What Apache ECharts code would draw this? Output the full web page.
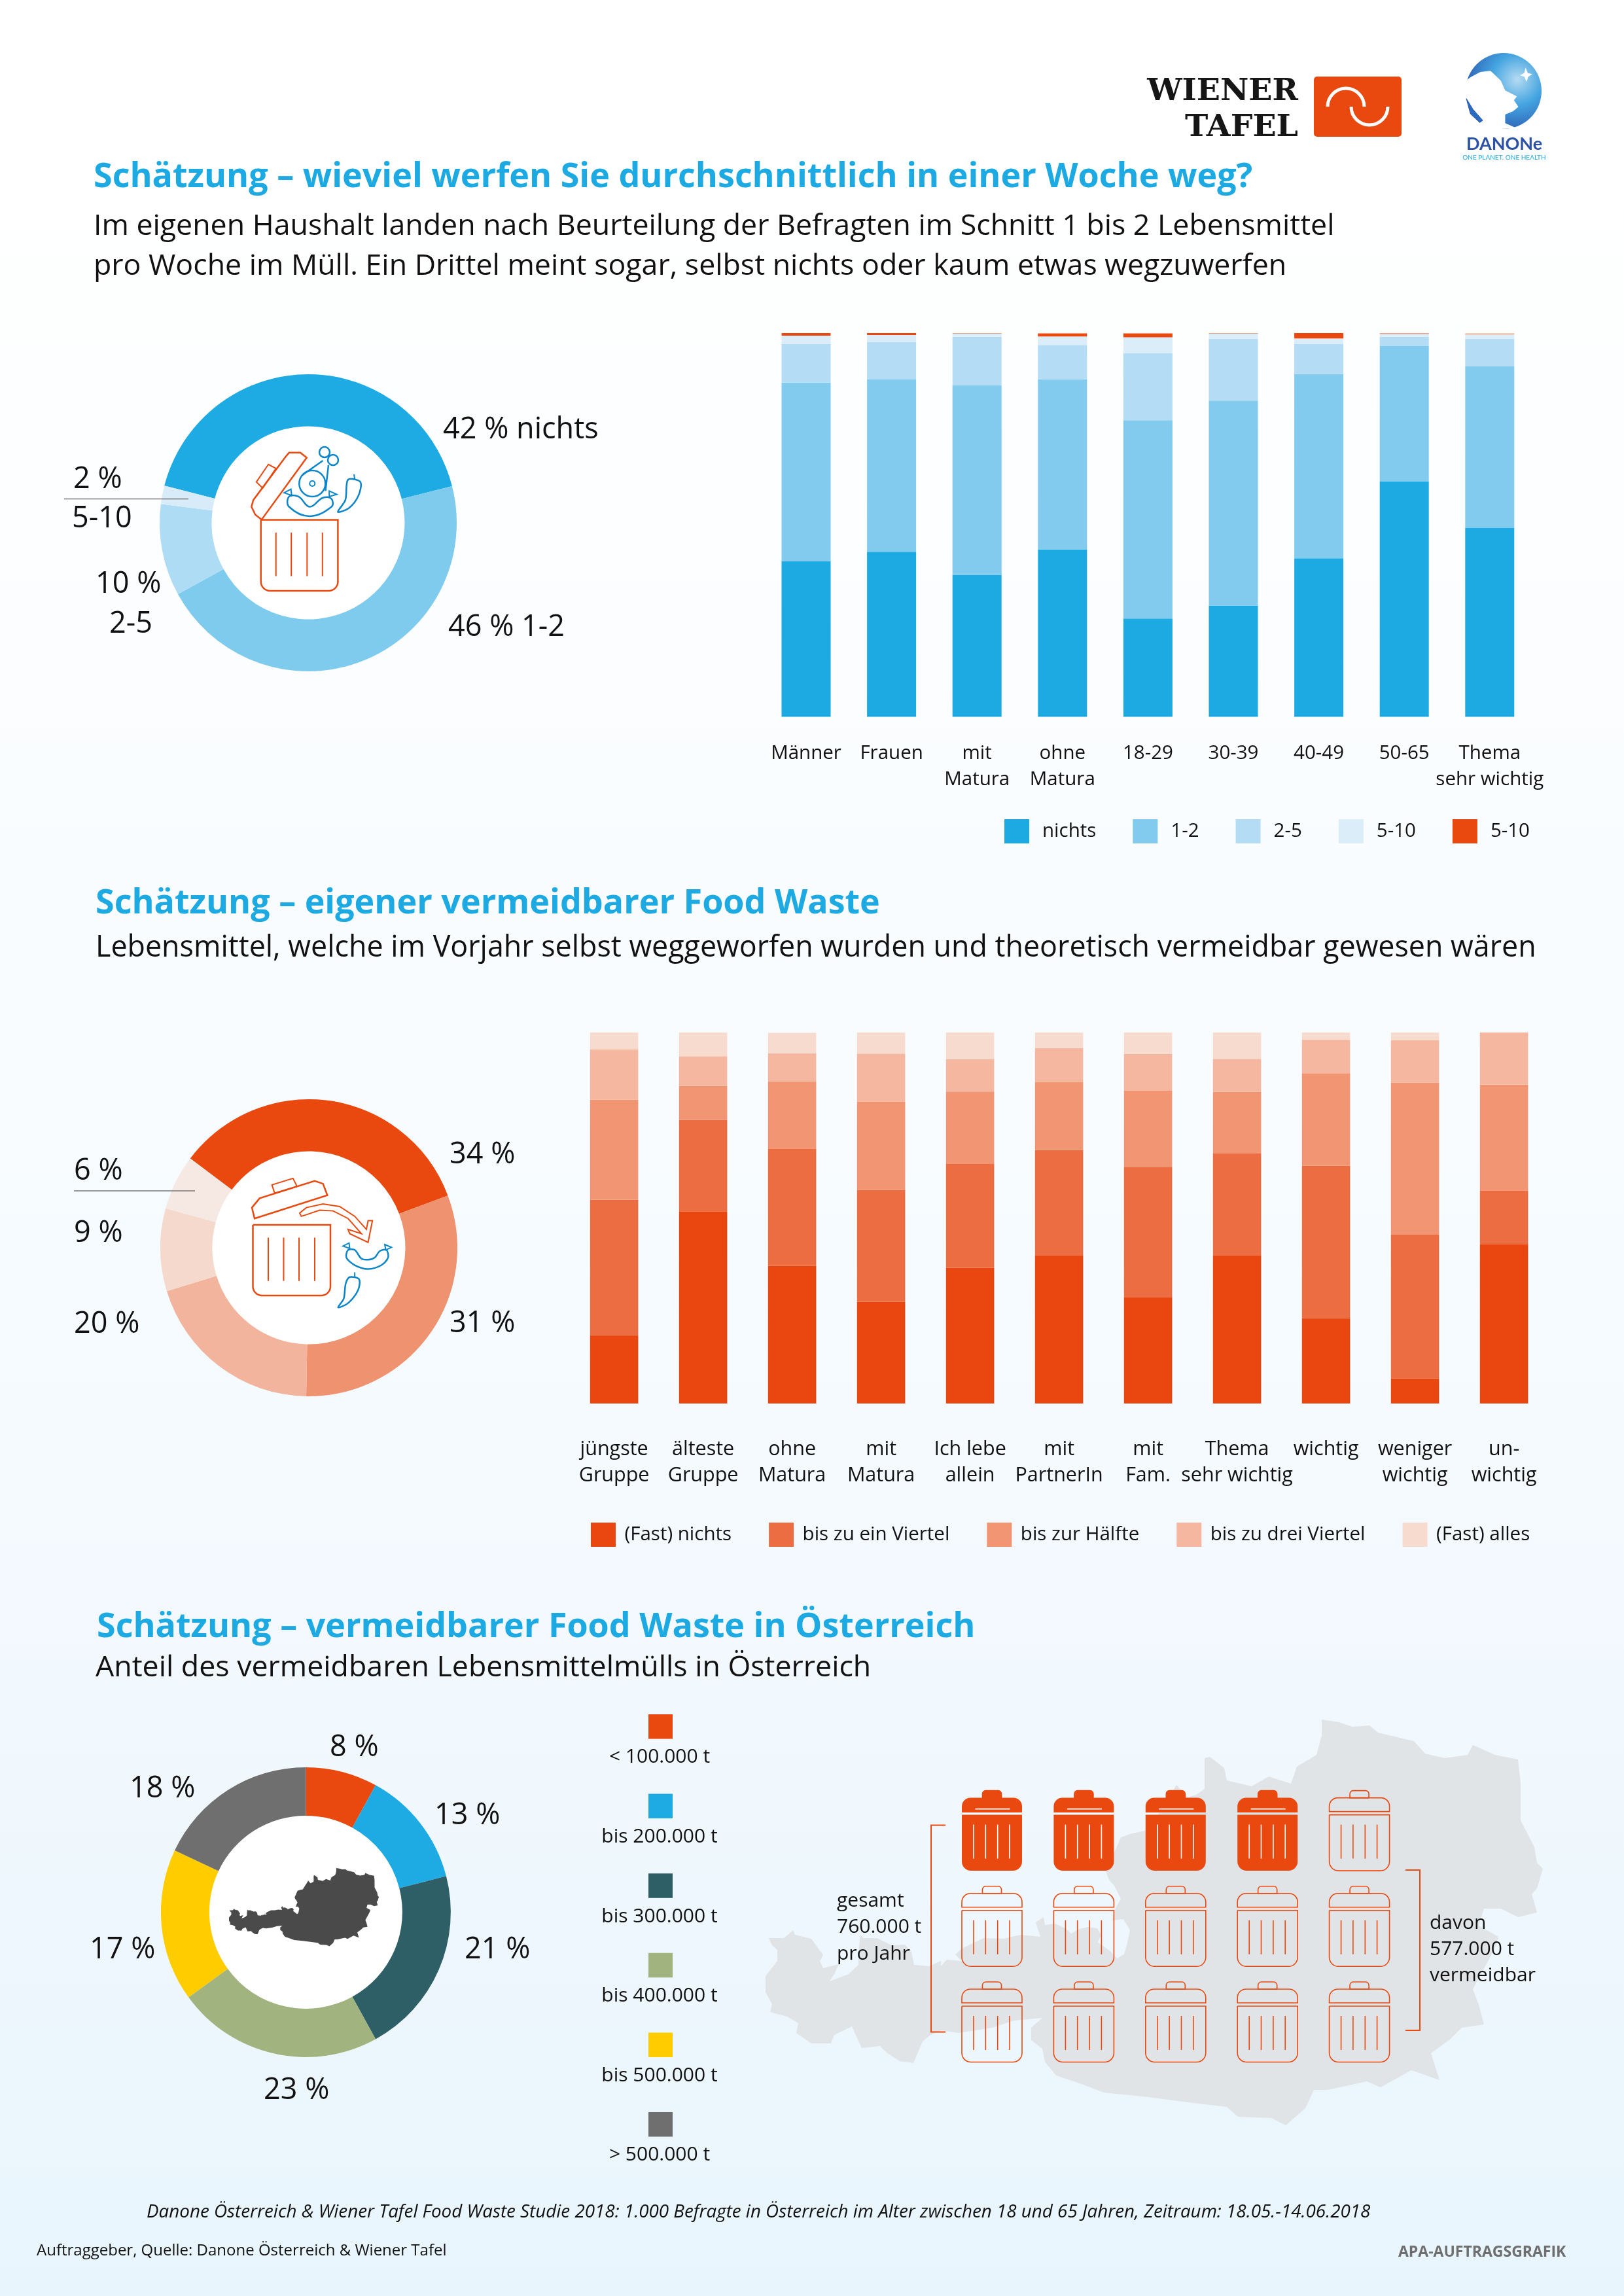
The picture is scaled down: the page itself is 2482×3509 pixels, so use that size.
<!DOCTYPE html>
<html lang="de">
<head>
<meta charset="UTF-8">
<title>Food Waste</title>
<style>html,body{margin:0;padding:0;background:#fff}#main{width:2482px;height:3509px}</style>
</head>
<body>
<div id="main"></div>
<script src="https://cdn.jsdelivr.net/npm/echarts@6/dist/echarts.min.js"></script>
<script>
// chart 1 - wieviel pro Woche
const weekCats = ['Männer', 'Frauen', 'mit\nMatura', 'ohne\nMatura', '18-29', '30-39', '40-49', '50-65', 'Thema\nsehr wichtig'];
const weekNames = ['nichts', '1-2', '2-5', '5-10', '5-10 '];
const weekNichts = [40.5, 43.0, 37.0, 43.6, 25.6, 29.0, 41.3, 61.4, 49.2];
const week12 = [46.6, 44.9, 49.4, 44.4, 51.7, 53.4, 48.0, 35.2, 42.1];
const week25 = [10.0, 9.8, 12.6, 8.9, 17.4, 16.1, 7.8, 2.4, 7.2];
const week510 = [2.2, 1.8, 0.9, 2.2, 4.2, 1.4, 1.5, 0.8, 1.1];
const weekTop = [0.7, 0.5, 0.1, 0.8, 1.0, 0.1, 1.4, 0.1, 0.3];
const pie1Values = [42, 46, 10, 2];

// chart 2 - eigener Food Waste
const ownCats = ['jüngste\nGruppe', 'älteste\nGruppe', 'ohne\nMatura', 'mit\nMatura', 'Ich lebe\nallein', 'mit\nPartnerIn', 'mit\nFam.', 'Thema\nsehr wichtig', 'wichtig', 'weniger\nwichtig', 'un-\nwichtig'];
const ownNames = ['(Fast) nichts', 'bis zu ein Viertel', 'bis zur Hälfte', 'bis zu drei Viertel', '(Fast) alles'];
const ownNichts = [18.4, 51.8, 37.1, 27.4, 36.6, 40.0, 28.7, 40.0, 23.0, 6.8, 43.0];
const ownViertel = [36.5, 24.6, 31.5, 30.2, 28.1, 28.3, 35.1, 27.5, 41.1, 38.7, 14.3];
const ownHaelfte = [27.0, 9.2, 18.2, 23.7, 19.4, 18.3, 20.5, 16.5, 24.9, 41.0, 28.7];
const ownDrei = [13.5, 8.0, 7.6, 13.0, 8.7, 9.2, 9.9, 8.9, 9.1, 11.4, 14.0];
const ownAlles = [4.6, 6.4, 5.5, 5.8, 7.3, 4.2, 5.8, 7.1, 1.9, 2.2, 0];
const pie2Values = [34, 31, 20, 9, 6];

// chart 3 - Oesterreich
const pie3Names = ['< 100.000 t', 'bis 200.000 t', 'bis 300.000 t', 'bis 400.000 t', 'bis 500.000 t', '> 500.000 t'];
const pie3Values = [8, 13, 21, 23, 17, 18];
const binsTotal = 15;
const binsFilled = 4;

const blues = ['#1daae2', '#82cbee', '#b4dcf4', '#daedf9', '#e9490f'];
const oranges = ['#e9470f', '#ec6d41', '#f19573', '#f5b7a0', '#f8dbcf'];
const pie1Colors = ['#1eaae2', '#7fcbee', '#aedcf5', '#d7ebf8'];
const pie2Colors = ['#e9490f', '#ee9270', '#f2b49c', '#f5d9cd', '#f6e9e3'];
const pie3Colors = ['#e9490f', '#1eaae2', '#2e5f66', '#a1b37e', '#ffcc00', '#706f6f'];
const RED = '#e9490f', ICONBLUE = '#0a85c9', INK = '#111111';
const FONT = '"Open Sans"';

var myChart = echarts.init(document.getElementById('main'), null, { renderer: 'canvas' });

// text with baseline y
function T(text, x, base, size, o) {
    o = o || {};
    return {
        type: 'text', z: 20,
        style: {
            text: text, x: x, y: base - size * 0.27,
            font: (o.st || '') + ' ' + (o.w || 'normal') + ' ' + size + 'px ' + (o.f || FONT),
            fill: o.c || INK,
            textAlign: o.a || 'left', textVerticalAlign: 'middle',
            align: o.a || 'left', verticalAlign: 'middle'
        }
    };
}
function line(x1, y1, x2, y2, c, w) {
    return { type: 'line', z: 20, shape: { x1: x1, y1: y1, x2: x2, y2: y2 }, style: { stroke: c, lineWidth: w } };
}
function box(x, y, w, h, r, fill, stroke, lw) {
    return { type: 'rect', z: 20, shape: { x: x, y: y, width: w, height: h, r: r }, style: { fill: fill || 'none', stroke: stroke || 'none', lineWidth: lw || 0 } };
}
// map points read in a zoomed crop to page px
function pts(list, ox, oy, sx, sy) {
    return list.map(p => [ox + p[0] / sx, oy + p[1] / sy]);
}
function poly(points, stroke, lw, fill, smooth) {
    return { type: 'polygon', z: 20, shape: { points: points, smooth: smooth || 0 }, style: { fill: fill || 'none', stroke: stroke, lineWidth: lw } };
}
function pline(points, stroke, lw) {
    return { type: 'polyline', z: 20, shape: { points: points }, style: { fill: 'none', stroke: stroke, lineWidth: lw } };
}

// austria outline, page px of the big map
const austria = [[1175,2962],[1198,2962],[1212,2950],[1215,2957],[1240,2963],[1258,2988],[1253,2997],[1258,3008],[1282,3002],[1275,3017],[1268,3028],[1297,3017],[1312,3003],[1312,2983],[1315,2957],[1320,2962],[1340,2962],[1363,2973],[1383,2972],[1393,2983],[1397,3003],[1420,3005],[1438,2997],[1438,3005],[1447,2995],[1470,2997],[1460,2987],[1470,2978],[1503,2962],[1533,2963],[1560,2957],[1590,2960],[1583,2938],[1595,2930],[1597,2942],[1613,2940],[1628,2947],[1637,2955],[1650,2948],[1663,2945],[1677,2947],[1683,2957],[1678,2968],[1687,2975],[1697,2982],[1707,2993],[1718,2987],[1722,2973],[1727,2950],[1717,2933],[1700,2935],[1703,2920],[1713,2902],[1703,2882],[1695,2873],[1690,2860],[1696,2847],[1713,2808],[1730,2802],[1755,2797],[1798,2728],[1815,2747],[1828,2743],[1841,2734],[1841,2687],[1849,2685],[1871,2702],[1875,2721],[1913,2730],[1939,2715],[1973,2726],[1982,2700],[2012,2682],[2020,2652],[2020,2628],[2046,2632],[2067,2639],[2093,2637],[2106,2648],[2161,2661],[2178,2680],[2208,2687],[2243,2682],[2251,2667],[2285,2682],[2320,2689],[2324,2726],[2324,2782],[2345,2823],[2349,2847],[2358,2856],[2349,2886],[2341,2895],[2349,2923],[2320,2930],[2294,2917],[2268,2917],[2260,2943],[2290,2960],[2285,2977],[2251,3040],[2260,3064],[2268,3094],[2234,3099],[2217,3116],[2187,3138],[2200,3179],[2157,3164],[2110,3190],[2089,3181],[2029,3194],[2008,3194],[1995,3222],[1965,3248],[1943,3237],[1892,3235],[1875,3220],[1824,3214],[1755,3205],[1687,3198],[1653,3185],[1614,3172],[1597,3151],[1593,3131],[1576,3118],[1576,3099],[1593,3084],[1550,3088],[1516,3099],[1465,3107],[1439,3103],[1422,3110],[1410,3120],[1396,3153],[1375,3150],[1355,3137],[1345,3127],[1317,3130],[1302,3097],[1275,3110],[1270,3123],[1240,3123],[1217,3107],[1220,3092],[1203,3082],[1177,3075],[1180,3063],[1170,3045],[1170,3020],[1188,2997],[1188,2980],[1180,2973]];

var g = [];
// white discs behind the donuts
[[471, 799], [472, 1907], [467.4, 2922.4]].forEach(c => {
    g.push({ type: 'circle', z: 0, shape: { cx: c[0], cy: c[1], r: 150 }, style: { fill: '#ffffff' } });
});

// titles
g.push(T('Schätzung – wieviel werfen Sie durchschnittlich in einer Woche weg?', 143, 285, 52, { w: 'bold', c: '#1daae2' }));
g.push(T('Im eigenen Haushalt landen nach Beurteilung der Befragten im Schnitt 1 bis 2 Lebensmittel', 143, 358, 44.7));
g.push(T('pro Woche im Müll. Ein Drittel meint sogar, selbst nichts oder kaum etwas wegzuwerfen', 143, 419, 44.7));
g.push(T('Schätzung – eigener vermeidbarer Food Waste', 146, 1395, 52, { w: 'bold', c: '#1daae2' }));
g.push(T('Lebensmittel, welche im Vorjahr selbst weggeworfen wurden und theoretisch vermeidbar gewesen wären', 146, 1461, 44.8));
g.push(T('Schätzung – vermeidbarer Food Waste in Österreich', 148, 2501, 52, { w: 'bold', c: '#1daae2' }));
g.push(T('Anteil des vermeidbaren Lebensmittelmülls in Österreich', 146, 2561, 44.7));

// pie labels
const PIE_FS = 45;
g.push(T(pie1Values[0] + ' % nichts', 677, 669, PIE_FS));
g.push(T(pie1Values[1] + ' % 1-2', 685, 971, PIE_FS));
g.push(T(pie1Values[2] + ' %', 146, 905, PIE_FS));
g.push(T('2-5', 167, 966, PIE_FS));
g.push(T(pie1Values[3] + ' %', 112, 745, PIE_FS));
g.push(T('5-10', 110, 805, PIE_FS));
g.push(line(98, 762.5, 288, 762.5, '#777777', 1.5));

g.push(T(pie2Values[0] + ' %', 687, 1777, PIE_FS));
g.push(T(pie2Values[1] + ' %', 687, 2035, PIE_FS));
g.push(T(pie2Values[4] + ' %', 113, 1802, PIE_FS));
g.push(T(pie2Values[3] + ' %', 113, 1897, PIE_FS));
g.push(T(pie2Values[2] + ' %', 113, 2036, PIE_FS));
g.push(line(113, 1820, 298, 1820, '#777777', 1.5));

g.push(T(pie3Values[0] + ' %', 504, 2683, PIE_FS));
g.push(T(pie3Values[1] + ' %', 664, 2787, PIE_FS));
g.push(T(pie3Values[2] + ' %', 710, 2992, PIE_FS));
g.push(T(pie3Values[3] + ' %', 403, 3207, PIE_FS));
g.push(T(pie3Values[4] + ' %', 137, 2992, PIE_FS));
g.push(T(pie3Values[5] + ' %', 198, 2746, PIE_FS));

// legend of the third donut, label below the swatch
pie3Names.forEach((n, i) => {
    g.push(box(991, 2620 + i * 121.6, 37, 37.5, 0, pie3Colors[i]));
    g.push(T(n, 1008, 2694 + i * 121.6, 30, { a: 'center' }));
});

// map behind the bins
g.push({ type: 'polygon', z: 1, shape: { points: austria }, style: { fill: '#e1e4e7' } });
// small map in the third donut
g.push(poly(austria.map(p => [350 + (p[0] - 1170) * 0.1928, 2855 + (p[1] - 2628) * 0.1928]), 'none', 0, '#4a4a4a'));

// bins
for (let i = 0; i < binsTotal; i++) {
    const col = i % 5, row = Math.floor(i / 5);
    const x = 1470 + col * 140.4, y = 2736.6 + row * 146.2;
    const full = i < binsFilled;
    const f = full ? RED : null, lw = full ? 0 : 1.6, fg = full ? '#ffffff' : RED;
    const ch = [
        box(31.5, 0, 29, 11, [5, 5, 0, 0], f, RED, 1.6),
        box(0, 11, 92, full ? 22.5 : 21, [13, 13, 0, 0], f, RED, lw),
        box(0, 37, 92, 85.5, [0, 0, 14, 14], f, RED, lw)
    ];
    [18, 36.3, 54.7, 73].forEach(sx => ch.push(line(sx, 52, sx, 104, fg, 1.6)));
    if (full) ch.push(line(20.5, 28, 73.5, 28, '#ffffff', 1.6));
    g.push({ type: 'group', x: x, y: y, children: ch });
}
// brackets
g.push(pline([[1445, 2789.5], [1423, 2789.5], [1423, 3105.5], [1445, 3105.5]], RED, 2));
g.push(pline([[2148, 2858], [2170, 2858], [2170, 3103], [2148, 3103]], RED, 2));
g.push(T('gesamt', 1279, 2914, 30));
g.push(T('760.000 t', 1279, 2954, 30));
g.push(T('pro Jahr', 1279, 2995, 30));
g.push(T('davon', 2185, 2948, 30));
g.push(T('577.000 t', 2185, 2988, 30));
g.push(T('vermeidbar', 2185, 3028, 30));

// footer
g.push(T('Danone Österreich & Wiener Tafel Food Waste Studie 2018: 1.000 Befragte in Österreich im Alter zwischen 18 und 65 Jahren, Zeitraum: 18.05.-14.06.2018', 224, 3389, 27.8, { st: 'italic' }));
g.push(T('Auftraggeber, Quelle: Danone Österreich & Wiener Tafel', 56, 3447, 24));
g.push(T('APA-AUFTRAGSGRAFIK', 2137, 3449, 23, { w: 'bold', c: '#6f6f6f' }));

// icon 1, bin with open lid and food
const z1 = l => pts(l, 60, 530, 1.742, 2.904);
g.push(box(398.7, 794.5, 117.7, 108.5, [0, 0, 14, 14], null, RED, 2.5));
[421.7, 445.2, 469.3, 492.8].forEach(x => g.push(line(x, 814, x, 880.5, RED, 2)));
g.push(poly(z1([[592,767],[712,492],[695,470],[665,470],[655,490],[570,680],[565,710],[575,745]]), RED, 2.5));
g.push(poly(z1([[578,600],[610,522],[630,540],[595,627]]), RED, 2));
g.push({ type: 'circle', z: 20, shape: { cx: 477.3, cy: 739, r: 20 }, style: { fill: 'none', stroke: ICONBLUE, lineWidth: 2.5 } });
g.push({ type: 'circle', z: 20, shape: { cx: 477.3, cy: 739, r: 4 }, style: { fill: 'none', stroke: ICONBLUE, lineWidth: 2 } });
g.push(pline(z1([[700,570],[755,505]]), ICONBLUE, 2.5));
g.push(pline(z1([[770,525],[762,640]]), ICONBLUE, 2.5));
g.push({ type: 'circle', z: 20, shape: { cx: 496, cy: 691, r: 8 }, style: { fill: '#fff', stroke: ICONBLUE, lineWidth: 2.5 } });
g.push({ type: 'circle', z: 20, shape: { cx: 509, cy: 703, r: 8 }, style: { fill: '#fff', stroke: ICONBLUE, lineWidth: 2.5 } });
g.push(poly(z1([[665,665],[665,710],[720,752],[778,710],[778,675],[755,670],[720,710],[690,665]]), ICONBLUE, 2.5, '#fff', 0.4));
g.push(poly(z1([[652,648],[670,632],[672,660]]), ICONBLUE, 2));
g.push(poly(z1([[772,640],[792,655],[772,665]]), ICONBLUE, 2));
g.push(poly(z1([[822,590],[855,600],[850,660],[825,715],[795,733],[815,680]]), ICONBLUE, 2.5, null, 0.3));
g.push(line(60 + 838 / 1.742, 530 + 566 / 2.904, 60 + 840 / 1.742, 530 + 590 / 2.904, ICONBLUE, 2));

// icon 2, bin, lid, arrow, food
const z2 = l => pts(l, 60, 1640, 1.96, 3.015);
g.push(box(386.5, 1872, 118.5, 108, [0, 0, 14, 14], null, RED, 2.5));
[410, 433.5, 457, 481].forEach(x => g.push(line(x, 1891.4, x, 1957.7, RED, 2)));
g.push(poly(z2([[645,670],[863,563],[850,510],[825,497],[660,577],[637,620]]), RED, 2.5));
g.push(poly(z2([[705,553],[697,515],[760,485],[772,522]]), RED, 2));
g.push(poly(z2([[785,660],[780,645],[800,620],[850,603],[900,615],[945,660],[980,720],[985,680],[998,680],[985,780],[930,740],[925,720],[965,740],[925,670],[880,635],[840,632],[805,650]]), RED, 2));
g.push(poly(z2([[925,815],[920,850],[945,885],[985,903],[1025,885],[1045,850],[1040,815],[1020,820],[1005,850],[985,860],[965,855],[945,815]]), ICONBLUE, 2.5, '#fff', 0.3));
g.push(poly(z2([[910,797],[928,783],[930,808]]), ICONBLUE, 2));
g.push(poly(z2([[1035,790],[1055,803],[1038,815]]), ICONBLUE, 2));
g.push(poly(z2([[930,940],[958,950],[955,1000],[925,1060],[895,1080],[912,1040],[918,970]]), ICONBLUE, 2.5, null, 0.3));
g.push(line(60 + 945 / 1.96, 1640 + 918 / 3.015, 60 + 945 / 1.96, 1640 + 940 / 3.015, ICONBLUE, 2));

// Wiener Tafel logo
g.push(T('WIENER', 1984, 153, 47.5, { a: 'right', w: 'bold', f: '"DejaVu Serif"', c: '#161616' }));
g.push(T('TAFEL', 1984, 208, 47.5, { a: 'right', w: 'bold', f: '"DejaVu Serif"', c: '#161616' }));
g.push(box(2008, 117, 134, 92, 5, RED));
g.push({ type: 'arc', z: 21, shape: { cx: 2057, cy: 163, r: 28, startAngle: Math.PI, endAngle: 2 * Math.PI, clockwise: true }, style: { stroke: '#fff', lineWidth: 5, fill: 'none' } });
g.push({ type: 'arc', z: 21, shape: { cx: 2093, cy: 163, r: 28, startAngle: 0, endAngle: Math.PI, clockwise: true }, style: { stroke: '#fff', lineWidth: 5, fill: 'none' } });

// Danone logo
const z3 = l => pts(l, 1700, 60, 2.24, 3);
g.push({ type: 'circle', z: 20, shape: { cx: 2298, cy: 139, r: 58 }, style: { fill: new echarts.graphic.RadialGradient(0.68, 0.35, 0.75, [{ offset: 0, color: '#b5dbf2' }, { offset: 0.45, color: '#44a4e0' }, { offset: 1, color: '#2a55ae' }]) } });
g.push(poly(z3([[1190,215],[1225,175],[1260,150],[1295,145],[1330,190],[1345,235],[1385,262],[1375,280],[1390,310],[1372,330],[1345,345],[1345,385],[1385,408],[1270,415],[1262,380],[1230,340],[1210,270],[1190,270]]), 'none', 0, '#ffffff'));
g.push(poly(z3([[1212,272],[1235,322],[1268,372],[1258,382],[1226,342]]), '#2a55ae', 1, '#2a6cc0'));
g.push(poly(z3([[1415,130],[1422,155],[1438,160],[1424,172],[1418,195],[1410,172],[1395,165],[1410,155]]), 'none', 0, '#ffffff'));
g.push(T('DANONe', 2299, 228, 27, { a: 'center', w: 'bold', f: 'Lato', c: '#2c52a5' }));
g.push(T('ONE PLANET. ONE HEALTH', 2299, 243, 10, { a: 'center', f: 'Lato', c: '#1fa9e1' }));

function barSeries(name, values, color, gi, stack, width) {
    return {
        name: name, type: 'bar', stack: stack, xAxisIndex: gi, yAxisIndex: gi,
        barWidth: width, silent: true, itemStyle: { color: color }, data: values
    };
}

var weekData = [weekNichts, week12, week25, week510, weekTop];
var ownData = [ownNichts, ownViertel, ownHaelfte, ownDrei, ownAlles];
var series = [];
weekData.forEach((d, i) => series.push(barSeries(weekNames[i], d, blues[i], 0, 'week', 75)));
ownData.forEach((d, i) => series.push(barSeries(ownNames[i], d, oranges[i], 1, 'own', 73.6)));
// top sliver of the last bar is paler in the source
series[4].data = weekTop.map((v, i) => i === 8 ? { value: v, itemStyle: { color: '#f0a88c' } } : v);

function pieSeries(values, names, colors, cx, cy, outer, inner, start) {
    return {
        type: 'pie', center: [cx, cy], radius: [inner, outer], startAngle: start, silent: true,
        label: { show: false }, labelLine: { show: false },
        data: values.map((v, i) => ({ name: names[i], value: v, itemStyle: { color: colors[i] } }))
    };
}
series.push(pieSeries(pie1Values, ['Pie nichts', 'Pie 1-2', 'Pie 2-5', 'Pie 5-10'], pie1Colors, 471, 799, 227, 147.5, 165.5));
series.push(pieSeries(pie2Values, ['Pie Fast nichts', 'Pie Viertel', 'Pie Hälfte', 'Pie drei Viertel', 'Pie alles'], pie2Colors, 472, 1907, 227, 147.5, 143));
series.push(pieSeries(pie3Values, pie3Names, pie3Colors, 467.4, 2922.4, 221.5, 147.5, 90));

var option = {
    animation: false,
    backgroundColor: new echarts.graphic.LinearGradient(0, 0, 0, 1, [
        { offset: 0, color: '#ffffff' }, { offset: 0.2, color: '#fdfeff' },
        { offset: 0.45, color: '#f8fcff' }, { offset: 0.7, color: '#f3f9fe' }, { offset: 1, color: '#e8f5fc' }
    ]),
    grid: [
        { left: 1166.7, top: 509, width: 1175.4, height: 586.5, containLabel: false },
        { left: 870.6, top: 1578, width: 1496, height: 567, containLabel: false }
    ],
    xAxis: [
        { type: 'category', gridIndex: 0, data: weekCats, axisLine: { show: false }, axisTick: { show: false }, axisLabel: { margin: 36, color: INK, fontFamily: FONT, fontSize: 29.5, lineHeight: 40, interval: 0 } },
        { type: 'category', gridIndex: 1, data: ownCats, axisLine: { show: false }, axisTick: { show: false }, axisLabel: { margin: 50, color: INK, fontFamily: FONT, fontSize: 30.5, lineHeight: 40, interval: 0 } }
    ],
    yAxis: [
        { type: 'value', gridIndex: 0, min: 0, max: 100, show: false },
        { type: 'value', gridIndex: 1, min: 0, max: 100, show: false }
    ],
    legend: [
        {
            data: weekNames, left: 1530, top: 1247, itemWidth: 38, itemHeight: 37, itemGap: 56, icon: 'rect', selectedMode: false,
            formatter: n => n.trim(), textStyle: { color: INK, fontFamily: FONT, fontSize: 29.5, padding: [0, 0, 0, 15] }
        },
        {
            data: ownNames, left: 898, top: 2322, itemWidth: 38, itemHeight: 37, itemGap: 57, icon: 'rect', selectedMode: false,
            textStyle: { color: INK, fontFamily: FONT, fontSize: 29.5, padding: [0, 0, 0, 8.5] }
        }
    ],
    series: series,
    graphic: { elements: g }
};
myChart.setOption(option);
</script>
</body>
</html>
